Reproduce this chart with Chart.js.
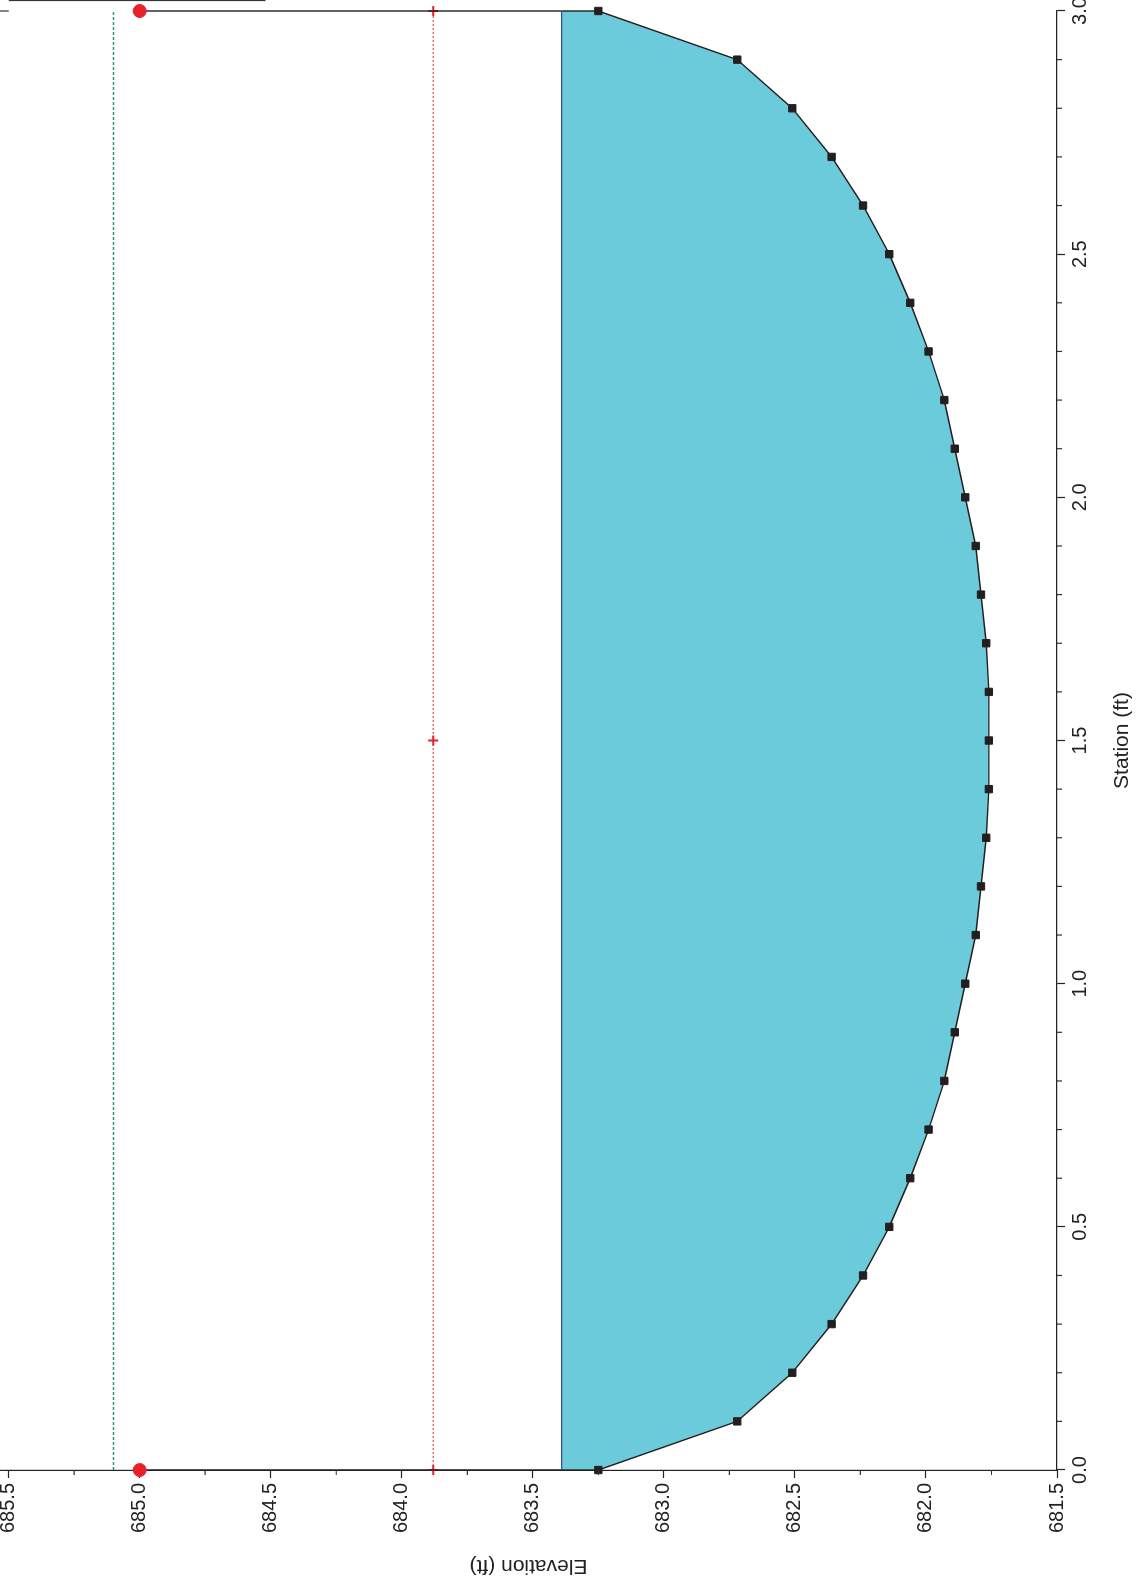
<!DOCTYPE html>
<html>
<head>
<meta charset="utf-8">
<script src="https://cdn.jsdelivr.net/npm/chart.js@4/dist/chart.umd.min.js"></script>
<style>
    body {
        margin: 0;
        overflow: hidden;
        background: #fff;
    }

    /* the chart is drawn upright, then turned a quarter turn to the left */
    #wrap {
        position: absolute;
        left: 0;
        top: 0;
        width: 1585px;
        height: 1139px;
        transform-origin: 0 0;
        transform: translate(0, 1585px) rotate(-90deg);
    }
</style>
</head>
<body>
<div id="wrap">
    <canvas id="section" width="1585" height="1139"></canvas>
</div>
<script>
// cross section data
const stations = [0.0, 0.1, 0.2, 0.3, 0.4, 0.5, 0.6, 0.7, 0.8, 0.9, 1.0,
    1.1, 1.2, 1.3, 1.4, 1.5, 1.6, 1.7, 1.8, 1.9, 2.0,
    2.1, 2.2, 2.3, 2.4, 2.5, 2.6, 2.7, 2.8, 2.9, 3.0];
const groundElev = [683.25, 682.72, 682.51, 682.36, 682.24, 682.14, 682.06, 681.99, 681.93, 681.89, 681.85,
    681.81, 681.79, 681.77, 681.76, 681.76, 681.76, 681.77, 681.79, 681.81, 681.85,
    681.89, 681.93, 681.99, 682.06, 682.14, 682.24, 682.36, 682.51, 682.72, 683.25];
const bankStations = [0.0, 3.0];
const bankElev = 685.0;
const wsStations = [0.0, 3.0];
const wsElev = 683.39;
const critStations = [0.0, 1.5, 3.0];
const critElev = 683.88;
const egStations = [0.0, 3.0];
const egElev = 685.10;

const stationTicks = [0.0, 0.5, 1.0, 1.5, 2.0, 2.5, 3.0];
const elevationTicks = [681.5, 682.0, 682.5, 683.0, 683.5, 684.0, 684.5, 685.0, 685.5];

const FONT = "'Liberation Sans', Arial, Helvetica, sans-serif";
const INK = "#222";

// ground line with the bank points at both ends
const profile = [{ x: bankStations[0], y: bankElev }]
    .concat(stations.map((s, i) => ({ x: s, y: groundElev[i] })))
    .concat([{ x: bankStations[1], y: bankElev }]);
const isBank = ctx => ctx.dataIndex === 0 || ctx.dataIndex === profile.length - 1;

// minor ticks + small frame pieces
const minorTicks = {
    id: "minorTicks",
    afterDraw(chart) {
        const { ctx, scales: { x, y }, chartArea } = chart;
        ctx.save();
        ctx.strokeStyle = "#333";
        ctx.lineWidth = 1.2;
        ctx.beginPath();
        for (let i = 0; i <= 30; i++) {
            if (i % 5 === 0) continue;
            const px = x.getPixelForValue(i / 10);
            ctx.moveTo(px, chartArea.bottom);
            ctx.lineTo(px, chartArea.bottom + 5);
        }
        for (let i = 0; i < elevationTicks.length - 1; i++) {
            const py = y.getPixelForValue((elevationTicks[i] + elevationTicks[i + 1]) / 2);
            ctx.moveTo(chartArea.left, py);
            ctx.lineTo(chartArea.left - 5, py);
        }
        // stub at the right end and the cut-off frame edge
        const right = x.getPixelForValue(3.0);
        ctx.moveTo(right, 0);
        ctx.lineTo(right, y.getPixelForValue(685.5));
        ctx.moveTo(chart.width - 0.5, y.getPixelForValue(685.5));
        ctx.lineTo(chart.width - 0.5, y.getPixelForValue(684.52));
        ctx.stroke();
        ctx.restore();
    }
};

new Chart(document.getElementById("section"), {
    type: "line",
    data: {
        datasets: [
            {
                label: "Ground",
                data: profile,
                order: 1,
                clip: false,
                borderColor: "#231f20",
                borderWidth: 1.4,
                pointStyle: ctx => isBank(ctx) ? "circle" : "rect",
                pointRadius: ctx => isBank(ctx) ? 6.5 : 5.2,
                pointBackgroundColor: ctx => isBank(ctx) ? "#e8202a" : "#231f20",
                pointBorderColor: ctx => isBank(ctx) ? "#e8202a" : "#231f20",
                pointBorderWidth: 1,
                fill: {
                    target: { value: wsElev },
                    above: "rgba(0,0,0,0)",
                    below: "rgb(108,203,219)"
                }
            },
            {
                label: "WS",
                data: wsStations.map(s => ({ x: s, y: wsElev })),
                order: 0,
                clip: false,
                borderColor: "#2d4f9e",
                borderWidth: 1.4,
                pointRadius: 0,
                fill: false
            },
            {
                label: "Crit",
                data: critStations.map(s => ({ x: s, y: critElev })),
                order: 2,
                clip: false,
                borderColor: "rgba(236,60,60,0.75)",
                borderWidth: 1.4,
                borderDash: [2, 2],
                pointStyle: "cross",
                pointRadius: 5,
                pointBorderColor: "#e8202a",
                pointBorderWidth: 2,
                fill: false
            },
            {
                label: "EG",
                data: egStations.map(s => ({ x: s, y: egElev })),
                order: 3,
                clip: false,
                borderColor: "#2f9a66",
                borderWidth: 1.4,
                borderDash: [3, 2],
                pointRadius: 0,
                fill: false
            }
        ]
    },
    options: {
        responsive: false,
        animation: false,
        devicePixelRatio: 1,
        layout: { autoPadding: false, padding: { left: 0, right: 11, top: 0, bottom: 0 } },
        plugins: {
            legend: { display: false },
            tooltip: { enabled: false }
        },
        scales: {
            x: {
                type: "linear",
                position: "bottom",
                min: 0,
                max: 3,
                afterBuildTicks: s => { s.ticks = stationTicks.map(v => ({ value: v })); },
                afterFit: s => { s.height = 82; s.paddingLeft = 0; s.paddingRight = 0; },
                ticks: {
                    autoSkip: false,
                    maxRotation: 0,
                    padding: 3,
                    color: INK,
                    font: { family: FONT, size: 20 },
                    callback: v => Number(v).toFixed(1)
                },
                grid: { drawOnChartArea: false, tickLength: 8, tickColor: INK, tickWidth: 1.2 },
                border: { color: INK, width: 1.2 },
                title: {
                    display: true,
                    text: "Station (ft)",
                    color: INK,
                    font: { family: FONT, size: 21 },
                    padding: { top: 0, bottom: 4 }
                }
            },
            y: {
                type: "linear",
                position: "left",
                min: 681.5,
                max: 685.533,
                afterBuildTicks: s => { s.ticks = elevationTicks.map(v => ({ value: v })); },
                afterFit: s => { s.width = 115; s.paddingTop = 0; s.paddingBottom = 0; },
                ticks: {
                    autoSkip: false,
                    padding: 5,
                    color: INK,
                    font: { family: FONT, size: 20 },
                    callback: v => Number(v).toFixed(1)
                },
                grid: { drawOnChartArea: false, tickLength: 8, tickColor: INK, tickWidth: 1.2 },
                border: { color: INK, width: 1.2 },
                title: {
                    display: true,
                    text: "Elevation (ft)",
                    color: INK,
                    font: { family: FONT, size: 21 },
                    padding: { top: 7, bottom: 0 }
                }
            }
        }
    },
    plugins: [minorTicks]
});
</script>
</body>
</html>
